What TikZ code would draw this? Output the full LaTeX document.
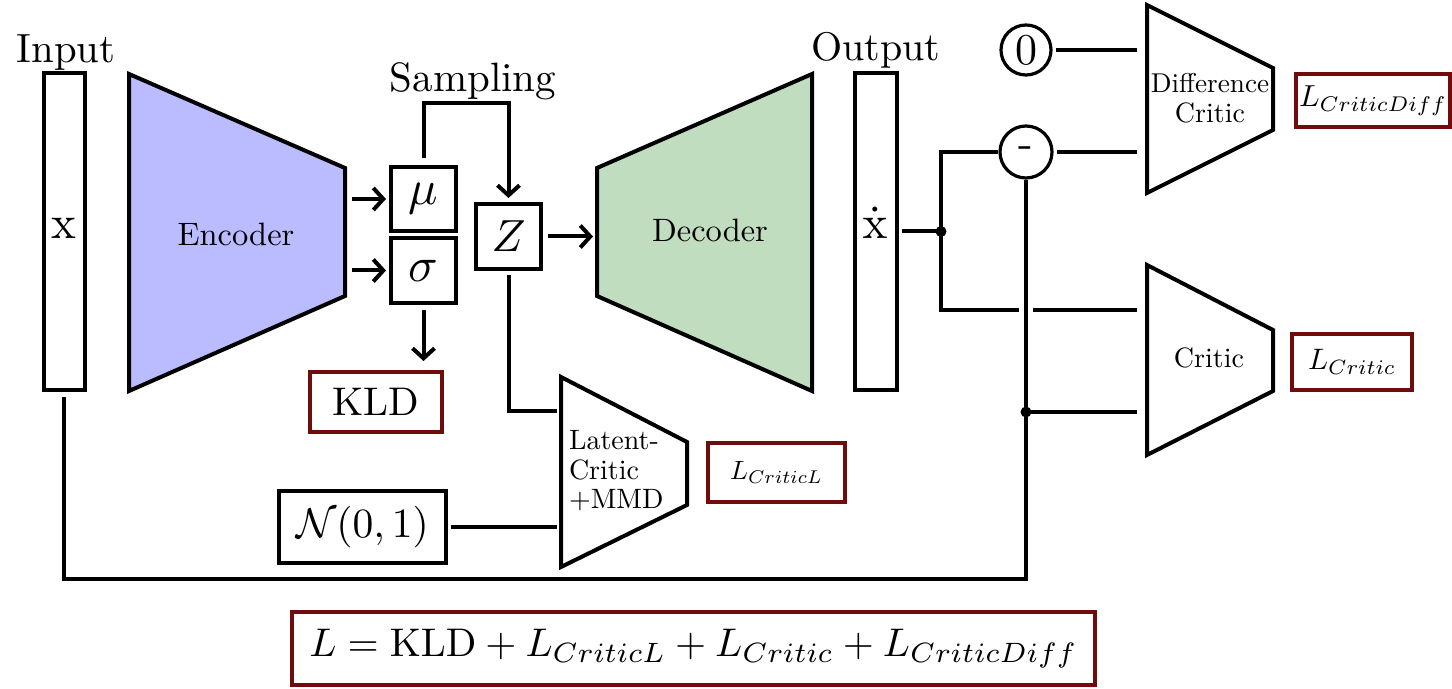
\documentclass[tikz,border=0pt]{standalone}
\usepackage{graphicx}
\usetikzlibrary{arrows.meta}
\definecolor{lossred}{RGB}{112,12,12}
\definecolor{encblue}{RGB}{187,187,255}
\definecolor{decgreen}{RGB}{193,221,192}
\newcommand{\szt}[2]{\scalebox{#1}{\fontsize{10}{12}\selectfont #2}}
\begin{document}
\begin{tikzpicture}[x=0.5pt,y=-0.5pt,line width=2pt,
  lbl/.style={inner sep=0pt},
  blk/.style={draw,line width=2pt,inner sep=0pt,fill=white},
  loss/.style={draw=lossred,line width=2pt,inner sep=0pt,fill=white},
  arr/.style={-{Straight Barb[length=5pt,width=11pt]}},
  jdot/.style={circle,fill,inner sep=0pt,minimum size=5.5pt},
  trap/.style={draw,line width=2pt,line join=miter},
  rnd/.style={circle,draw,line width=1.6pt,inner sep=0pt,fill=white}]
\useasboundingbox (0,0) rectangle (1452,689);

% trapezoids
\draw[trap,fill=encblue] (129,74) -- (345,168) -- (345,296) -- (129,391) -- cycle;
\draw[trap,fill=decgreen] (597,168) -- (812,74) -- (812,391) -- (597,296) -- cycle;
\draw[trap] (1147,5) -- (1273,68) -- (1273,130) -- (1147,193) -- cycle;
\draw[trap] (1147,265) -- (1273,330) -- (1273,391) -- (1147,455) -- cycle;
\draw[trap] (561,377) -- (687,442) -- (687,505) -- (561,567) -- cycle;

\node[lbl,anchor=base] (enc) at (236,246) {\szt{1.62}{Encoder}};
\node[lbl,anchor=base] (dec) at (710,242) {\szt{1.62}{Decoder}};
\node[lbl,anchor=base] (dc1) at (1210,93) {\szt{1.36}{Difference}};
\node[lbl,anchor=base] (dc2) at (1210,123) {\szt{1.4}{Critic}};
\node[lbl,anchor=base] (cr) at (1209,368) {\szt{1.4}{Critic}};
\node[lbl,anchor=base west] (lt1) at (567,450) {\szt{1.4}{Latent-}};
\node[lbl,anchor=base west] (lt2) at (567,479.5) {\szt{1.4}{Critic}};
\node[lbl,anchor=base west] (lt3) at (567,509) {\szt{1.4}{+MMD}};

\coordinate (encR1) at (345,199);
\coordinate (encR2) at (345,270.5);
\coordinate (decL) at (597,236.5);
\coordinate (latIn1) at (561,411);
\coordinate (latIn2) at (561,527);
\coordinate (crIn1) at (1147,310);
\coordinate (crIn2) at (1147,412);
\coordinate (dcIn1) at (1147,50);
\coordinate (dcIn2) at (1147,152);

% labels
\node[lbl,anchor=base] (inlbl) at (66,63) {\szt{2.04}{Input}};
\node[lbl,anchor=base] (outlbl) at (876,61) {\szt{2.0}{Output}};
\node[lbl,anchor=base] (samp) at (473,92) {\szt{2.05}{Sampling}};

% boxes
\node[blk,minimum width=20.5pt,minimum height=158.5pt] (inbar) at (64,231.5) {};
\node[lbl,anchor=base] (xin) at (64,239) {\szt{2.35}{x}};
\node[blk,minimum width=21pt,minimum height=158.5pt] (outbar) at (876,231.5) {};
\node[lbl,anchor=base] (xout) at (875,239) {\szt{2.35}{$\dot{\mathrm{x}}$}};
\node[blk,minimum width=32.5pt,minimum height=32pt] (mu) at (423.5,199) {\szt{2.45}{$\mu$}};
\node[blk,minimum width=32.5pt,minimum height=32.5pt] (sigma) at (423.5,270.5) {\szt{2.45}{$\sigma$}};
\node[blk,minimum width=32.5pt,minimum height=32.5pt] (Z) at (508.5,236.5) {\szt{2.25}{$Z$}};
\node[loss,minimum width=66pt,minimum height=30pt] (kld) at (376,402) {\szt{2.0}{KLD}};
\node[blk,minimum width=83.5pt,minimum height=36pt] (N) at (362.5,527) {\szt{2.08}{$\mathcal{N}(0,1)$}};
\node[loss,minimum width=68.5pt,minimum height=29.5pt] (lcl) at (776.5,472.5) {\szt{1.32}{$L_{CriticL}$}};
\node[loss,minimum width=60pt,minimum height=28pt] (lc) at (1352,362) {\szt{1.48}{$L_{Critic}$}};
\node[loss,minimum width=77pt,minimum height=26.5pt] (lcd) at (1373,100.5) {\szt{1.52}{$L_{CriticDiff}$}};
\node[loss,minimum width=401.5pt,minimum height=36.5pt] (total) at (693.5,648.5) {\szt{2.0}{$L=\mathrm{KLD}+L_{CriticL}+L_{Critic}+L_{CriticDiff}$}};
\node[rnd,minimum size=25pt] (zero) at (1026,50) {\szt{2.2}{0}};
\node[rnd,minimum size=26pt] (minus) at (1026,152) {\szt{2.2}{-}};

\node[jdot] (jd1) at (941,231.5) {};
\node[jdot] (jd2) at (1026,412) {};
\coordinate (sampTop) at (466,103);
\coordinate (botR) at (1026,579);
\coordinate (hopA) at (1019,310);
\coordinate (hopB) at (1033,310);

% connectors
\draw[arr,shorten <=3.5pt,shorten >=1.5pt] (encR1) -- (mu.west);
\draw[arr,shorten <=3.5pt,shorten >=1.5pt] (encR2) -- (sigma.west);
\draw[arr,shorten <=3.5pt,shorten >=2pt] (mu.north) |- (sampTop) -| (Z.north);
\draw[arr,shorten <=2.5pt,shorten >=4.5pt] (sigma.south) -- (sigma.south |- kld.north);
\draw[arr,shorten <=2.5pt,shorten >=2pt] (Z.east) -- (decL);
\draw[shorten <=2pt,shorten >=2pt] (Z.south) |- (latIn1);
\draw[shorten <=1.5pt,shorten >=2pt] (N.east) -- (latIn2);
\draw[shorten <=2.5pt] (inbar.south) |- (botR) -- (minus.south);
\draw[shorten <=1.5pt] (outbar.east) -- (jd1.center);
\draw (jd1.center) |- (minus.west);
\draw (jd1.center) |- (hopA);
\draw[shorten >=5pt] (hopB) -- (crIn1);
\draw[shorten <=1.5pt,shorten >=5pt] (minus.east) -- (dcIn2);
\draw[shorten <=1.5pt,shorten >=5pt] (zero.east) -- (dcIn1);
\draw[shorten >=5pt] (jd2.center) -- (crIn2);
\end{tikzpicture}
\end{document}
